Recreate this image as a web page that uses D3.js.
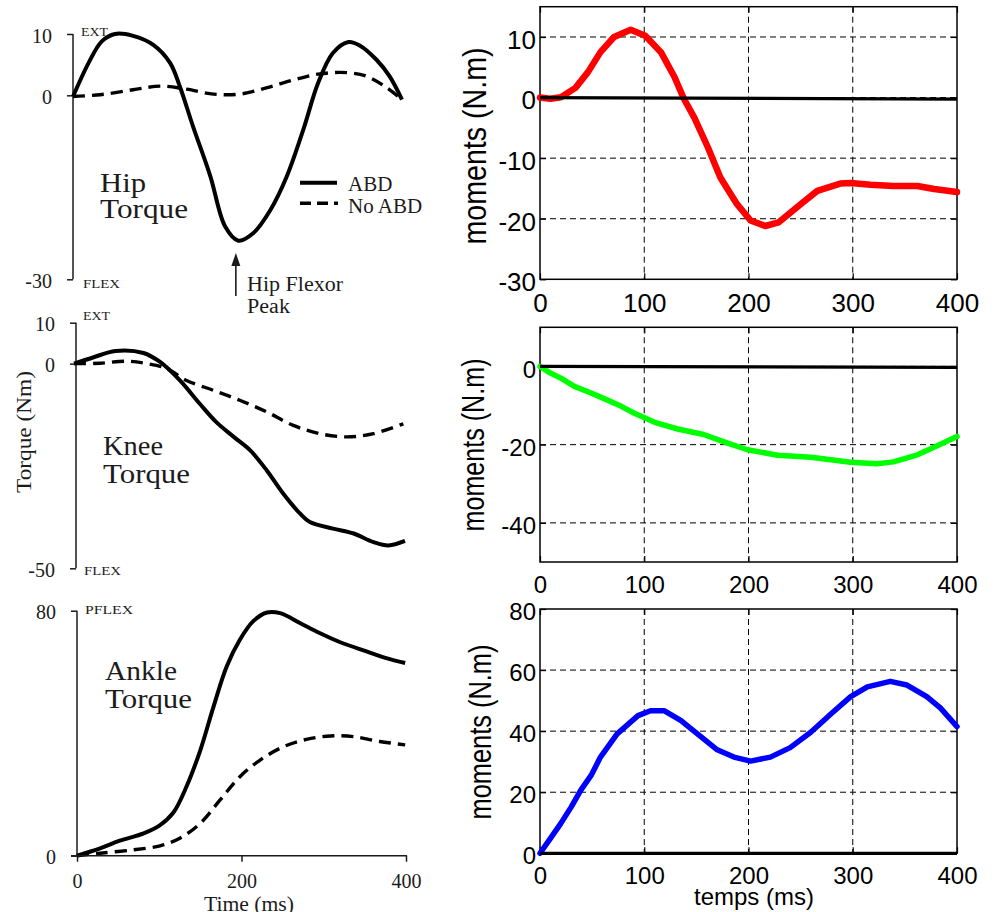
<!DOCTYPE html>
<html><head><meta charset="utf-8">
<script src="https://cdn.jsdelivr.net/npm/d3@7"></script>
<style>body{margin:0;background:#fff}svg{display:block}</style>
</head><body>
<script>
// ---------------- DATA ----------------
// Left column (published curves): time in ms, torque in Nm
const hipAbdT   = [0,19,35,51,73,98,118,130,146,167,185,201,219,240,260,280,298,316,335,349,369,385,400];
const hipAbdV   = [-0.2,5.3,8.8,10,9.7,8.2,5.3,1.4,-5.1,-13.2,-21.4,-23.7,-22.5,-18.7,-13.2,-5.6,2.0,6.9,8.7,8.1,5.8,3.1,-0.7];
const hipNoT    = [0,33,73,106,138,171,203,235,268,300,333,357,381,400];
const hipNoV    = [-0.2,0.1,0.9,1.5,1.0,0.2,0.2,1.2,2.5,3.5,3.7,3.1,1.3,-0.7];

const kneeAbdT  = [0,23,50,84,104,128,152,172,193,213,233,253,273,285,313,338,362,380,400];
const kneeAbdV  = [0,1.5,3.1,2.6,0.4,-4.1,-9.8,-14.3,-17.9,-21.2,-26.1,-31.8,-36.6,-38.7,-40.3,-41.5,-43.6,-44.4,-43.3];
const kneeNoT   = [0,31,64,88,112,136,168,201,233,265,297,330,362,398];
const kneeNoV   = [0,0.1,0.6,0,-1.2,-4.1,-6.5,-9.0,-11.8,-15.1,-17.1,-17.9,-17.1,-14.7];

const ankleAbdT = [0,28,52,81,101,117,133,150,166,182,198,214,231,247,271,295,320,352,376,399];
const ankleAbdV = [0,2.4,4.9,7.3,10,14,22.5,34.5,48.7,61.8,70.5,76.5,79.4,79.2,76,72.7,69.7,66.7,64.5,62.9];
const ankleNoT  = [0,28,68,101,125,150,174,198,223,251,279,308,336,368,399];
const ankleNoV  = [0,0.8,1.9,3.2,5.7,10.6,18.2,25.8,31.3,35.6,38,39.1,38.9,37.3,36.2];

const hipTicksL   = [10,0,-30];
const kneeTicksL  = [10,0,-50];
const ankleTicksL = [80,0];
const timeTicksL  = [0,200,400];

// Right column (simulated moments): time in ms, moments in N.m
const hipSimT   = [0,10,20,34,46,58,71,87,101,116,129,138,148,161,173,189,202,216,229,250,266,288,298,317,339,362,378,400];
const hipSimV   = [0,-0.2,0.05,1.6,4.2,7.5,10,11.2,10.2,7.5,3.4,-0.2,-3.3,-8.2,-13.2,-17.6,-20.3,-21.2,-20.6,-17.6,-15.4,-14.2,-14.1,-14.4,-14.6,-14.6,-15.1,-15.6];
const kneeSimT  = [0,10,20,33,49,62,78,90,110,132,157,180,199,228,260,298,323,339,362,381,400];
const kneeSimV  = [0,-1.7,-3.0,-5.1,-6.8,-8.3,-10.2,-11.9,-14.3,-16,-17.4,-19.6,-21.3,-22.7,-23.2,-24.5,-24.9,-24.4,-22.6,-20.3,-17.9];
const ankleSimT = [0,10,20,30,39,49,58,74,94,106,119,135,151,170,186,202,221,240,260,279,298,314,336,352,371,384,400];
const ankleSimV = [0,4.9,9.8,15.2,20.6,25.5,31.5,39.1,45.1,46.7,46.7,43.5,39.1,33.9,31.5,30.2,31.5,34.6,39.7,45.6,51.3,54.5,56.3,55.1,51.3,47.6,41.5];
const zeroLineT = [0,400];
const zeroLineV = [0,-0.25];
const zeroFlatV = [0,0];

const timeTicksR  = [0,100,200,300,400];
const hipTicksR   = [10,0,-10,-20,-30];
const kneeTicksR  = [0,-20,-40];
const ankleTicksR = [0,20,40,60,80];

const legendLabels = ["ABD","No ABD"];

// ---------------- DRAW ----------------
const svg = d3.select("body").append("svg").attr("width",995).attr("height",912);
const serif = "'Liberation Serif','Times New Roman',serif";
const sans = "'Liberation Sans',Arial,Helvetica,sans-serif";
const ink = "#1b1b1b";
const zip = (t,v) => t.map((d,i)=>[d,v[i]]);

function leftPanel(o){
  const x = d3.scaleLinear().domain([0,400]).range(o.xr);
  const y = d3.scaleLinear().domain(o.yd).range(o.yr);
  const g = svg.append("g");
  const ax = o.axisX;
  const yAxis = d3.axisLeft(y).tickValues(o.yTicks).tickSize(6).tickFormat(d=>String(d));
  const ga = g.append("g").attr("transform",`translate(${ax},0)`).call(yAxis);
  ga.select(".domain").attr("stroke",ink).attr("stroke-width",1.5).attr("d",`M0,${y(o.yd[1])}V${y(o.yd[0])}`);
  ga.selectAll(".tick line").attr("stroke",ink).attr("stroke-width",1.5);
  ga.selectAll(".tick text").attr("font-family",serif).attr("font-size",20).attr("fill",ink)
    .attr("x",-21).attr("dy",null).attr("y",8);
  const line = d3.line().x(d=>x(d[0])).y(d=>y(d[1])).curve(d3.curveCatmullRom.alpha(0.5));
  o.series.forEach(s=>{
    g.append("path").attr("d",line(zip(s.t,s.v))).attr("fill","none").attr("stroke","#000")
      .attr("stroke-width",s.dash?3.4:4).attr("stroke-dasharray",s.dash?"12,7":null)
      .attr("stroke-linejoin","round");
  });
  return {x,y,g};
}

const hipL = leftPanel({xr:[73,402], yd:[-30,10], yr:[279.3,34], axisX:73, yTicks:hipTicksL,
  series:[{t:hipAbdT,v:hipAbdV},{t:hipNoT,v:hipNoV,dash:true}]});
const kneeL = leftPanel({xr:[74,405], yd:[-50,10], yr:[568.3,322.7], axisX:76, yTicks:kneeTicksL,
  series:[{t:kneeAbdT,v:kneeAbdV},{t:kneeNoT,v:kneeNoV,dash:true}]});
const ankleL = leftPanel({xr:[77,406], yd:[0,80], yr:[855.7,610.7], axisX:77, yTicks:ankleTicksL,
  series:[{t:ankleAbdT,v:ankleAbdV},{t:ankleNoT,v:ankleNoV,dash:true}]});
{
  const xa = d3.axisBottom(ankleL.x).tickValues(timeTicksL).tickSize(6).tickFormat(d=>String(d));
  const gx = svg.append("g").attr("transform","translate(0,855.7)").call(xa);
  gx.select(".domain").attr("stroke",ink).attr("stroke-width",1.5).attr("d","M71,0H407");
  gx.selectAll(".tick line").attr("stroke",ink).attr("stroke-width",1.5);
  gx.selectAll(".tick text").attr("font-family",serif).attr("font-size",20).attr("fill",ink)
    .attr("dy",null).attr("y",32);
  svg.append("text").attr("x",249).attr("y",911).attr("text-anchor","middle")
    .attr("font-family",serif).attr("font-size",20).attr("fill",ink)
    .attr("textLength",90).attr("lengthAdjust","spacingAndGlyphs").text("Time (ms)");
}
const smallLbl = [["EXT",81,36,27],["FLEX",83,288,37],["EXT",83,320,27],["FLEX",84,575,37],["PFLEX",85,614,48]];
smallLbl.forEach(([s,x,y,len])=>svg.append("text").attr("x",x).attr("y",y).attr("font-family",serif)
  .attr("font-size",13).attr("fill",ink).attr("textLength",len).attr("lengthAdjust","spacingAndGlyphs").text(s));
const titles = [["Hip",100,192,46],["Torque",100,218,88],["Knee",103,455,60],["Torque",103,483,87],["Ankle",105,680,72],["Torque",105,708,87]];
titles.forEach(([s,x,y,len])=>svg.append("text").attr("x",x).attr("y",y).attr("font-family",serif)
  .attr("font-size",28).attr("fill",ink).attr("textLength",len).attr("lengthAdjust","spacingAndGlyphs").text(s));
svg.append("text").attr("transform","translate(31,432) rotate(-90)").attr("text-anchor","middle")
  .attr("font-family",serif).attr("font-size",20).attr("fill",ink)
  .attr("textLength",122).attr("lengthAdjust","spacingAndGlyphs").text("Torque (Nm)");
{
  const lg = svg.append("g");
  lg.append("line").attr("x1",300).attr("x2",337).attr("y1",182.7).attr("y2",182.7).attr("stroke","#000").attr("stroke-width",4);
  lg.append("line").attr("x1",300).attr("x2",338).attr("y1",203.3).attr("y2",203.3).attr("stroke","#000").attr("stroke-width",3.4).attr("stroke-dasharray","11,6");
  lg.append("text").attr("x",348).attr("y",190.5).attr("font-family",serif).attr("font-size",21).attr("fill",ink).text(legendLabels[0]);
  lg.append("text").attr("x",348).attr("y",213).attr("font-family",serif).attr("font-size",21).attr("fill",ink).text(legendLabels[1]);
}
{
  const ax = hipL.x(198);
  svg.append("line").attr("x1",ax).attr("x2",ax).attr("y1",296).attr("y2",262).attr("stroke",ink).attr("stroke-width",1.6);
  svg.append("path").attr("d",`M${ax},253L${ax-4.5},266L${ax+4.5},266Z`).attr("fill",ink);
  svg.append("text").attr("x",247).attr("y",291).attr("font-family",serif).attr("font-size",20).attr("fill",ink)
    .attr("textLength",96).attr("lengthAdjust","spacingAndGlyphs").text("Hip Flexor");
  svg.append("text").attr("x",247).attr("y",313).attr("font-family",serif).attr("font-size",20).attr("fill",ink)
    .attr("textLength",43).attr("lengthAdjust","spacingAndGlyphs").text("Peak");
}

// ---------------- Right column ----------------
function rightPanel(o){
  const x = d3.scaleLinear().domain([0,400]).range([540,957]);
  const y = d3.scaleLinear().domain(o.yd).range(o.yr);
  const g = svg.append("g");
  const [x0,x1] = x.range(); const yb = o.yr[0], yt = o.yr[1];
  const gv = timeTicksR.filter(d=>d>0&&d<400);
  g.selectAll(null).data(gv).join("line").attr("x1",d=>x(d)).attr("x2",d=>x(d)).attr("y1",yt).attr("y2",yb)
    .attr("stroke","#000").attr("stroke-width",1).attr("stroke-dasharray","6,4");
  const gh = o.yTicks.filter(d=>y(d)>yt+1 && y(d)<yb-1);
  g.selectAll(null).data(gh).join("line").attr("x1",x0).attr("x2",x1).attr("y1",d=>y(d)).attr("y2",d=>y(d))
    .attr("stroke","#000").attr("stroke-width",1).attr("stroke-dasharray","6,4");
  g.append("rect").attr("x",x0).attr("y",yt).attr("width",x1-x0).attr("height",yb-yt)
    .attr("fill","none").attr("stroke","#000").attr("stroke-width",1.5);
  const yl = d3.axisLeft(y).tickValues(o.yTicks).tickSize(-6).tickPadding(4).tickFormat(d=>String(d));
  const gyl = g.append("g").attr("transform",`translate(${x0},0)`).call(yl);
  const yr2 = d3.axisRight(y).tickValues(o.yTicks).tickSize(-6).tickFormat("");
  const gyr = g.append("g").attr("transform",`translate(${x1},0)`).call(yr2);
  const xb = d3.axisBottom(x).tickValues(timeTicksR).tickSize(-6).tickFormat(d=>String(d));
  const gxb = g.append("g").attr("transform",`translate(0,${yb})`).call(xb);
  const xt = d3.axisTop(x).tickValues(timeTicksR).tickSize(-6).tickFormat("");
  const gxt = g.append("g").attr("transform",`translate(0,${yt})`).call(xt);
  [gyl,gyr,gxb,gxt].forEach(a=>{a.select(".domain").remove(); a.selectAll(".tick line").attr("stroke","#000").attr("stroke-width",1.2);});
  gyl.selectAll(".tick text").attr("font-family",sans).attr("font-size",o.fs).attr("fill","#000")
    .attr("x",-4).attr("dy",null).attr("y",o.fs*0.36+2);
  gxb.selectAll(".tick text").attr("font-family",sans).attr("font-size",o.fs).attr("fill","#000")
    .attr("dy",null).attr("y",o.xlblY);
  const line = d3.line().x(d=>x(d[0])).y(d=>y(d[1]));
  g.append("path").attr("d",line(zip(o.t,o.v))).attr("fill","none").attr("stroke",o.color)
    .attr("stroke-width",o.lw).attr("stroke-linejoin","round").attr("stroke-linecap","round");
  g.append("path").attr("d",line(zip(zeroLineT,o.zero))).attr("fill","none").attr("stroke","#000").attr("stroke-width",3.2);
  g.append("text").attr("transform",`translate(${o.labX},${o.labY}) rotate(-90)`).attr("text-anchor","middle")
    .attr("font-family",sans).attr("font-size",o.labFs).attr("fill","#000")
    .attr("textLength",o.labLen).attr("lengthAdjust","spacingAndGlyphs").text("moments (N.m)");
  return {x,y};
}

rightPanel({yd:[-30,15], yr:[279.3,6.7], yTicks:hipTicksR, t:hipSimT, v:hipSimV, color:"#ff0000", lw:6.5,
  zero:zeroLineV, fs:26, xlblY:33, labX:486, labY:146, labFs:33, labLen:197});
rightPanel({yd:[-50,10], yr:[562,327.3], yTicks:kneeTicksR, t:kneeSimT, v:kneeSimV, color:"#00ff00", lw:5.5,
  zero:zeroLineV, fs:24, xlblY:31, labX:484, labY:445, labFs:31, labLen:173});
rightPanel({yd:[0,80], yr:[853.3,609], yTicks:ankleTicksR, t:ankleSimT, v:ankleSimV, color:"#0000ff", lw:5.5,
  zero:zeroFlatV, fs:24, xlblY:31, labX:491, labY:732, labFs:31, labLen:175});
svg.append("text").attr("x",754).attr("y",905).attr("text-anchor","middle").attr("font-family",sans)
  .attr("font-size",24).attr("fill","#000").text("temps (ms)");
</script>
</body></html>
